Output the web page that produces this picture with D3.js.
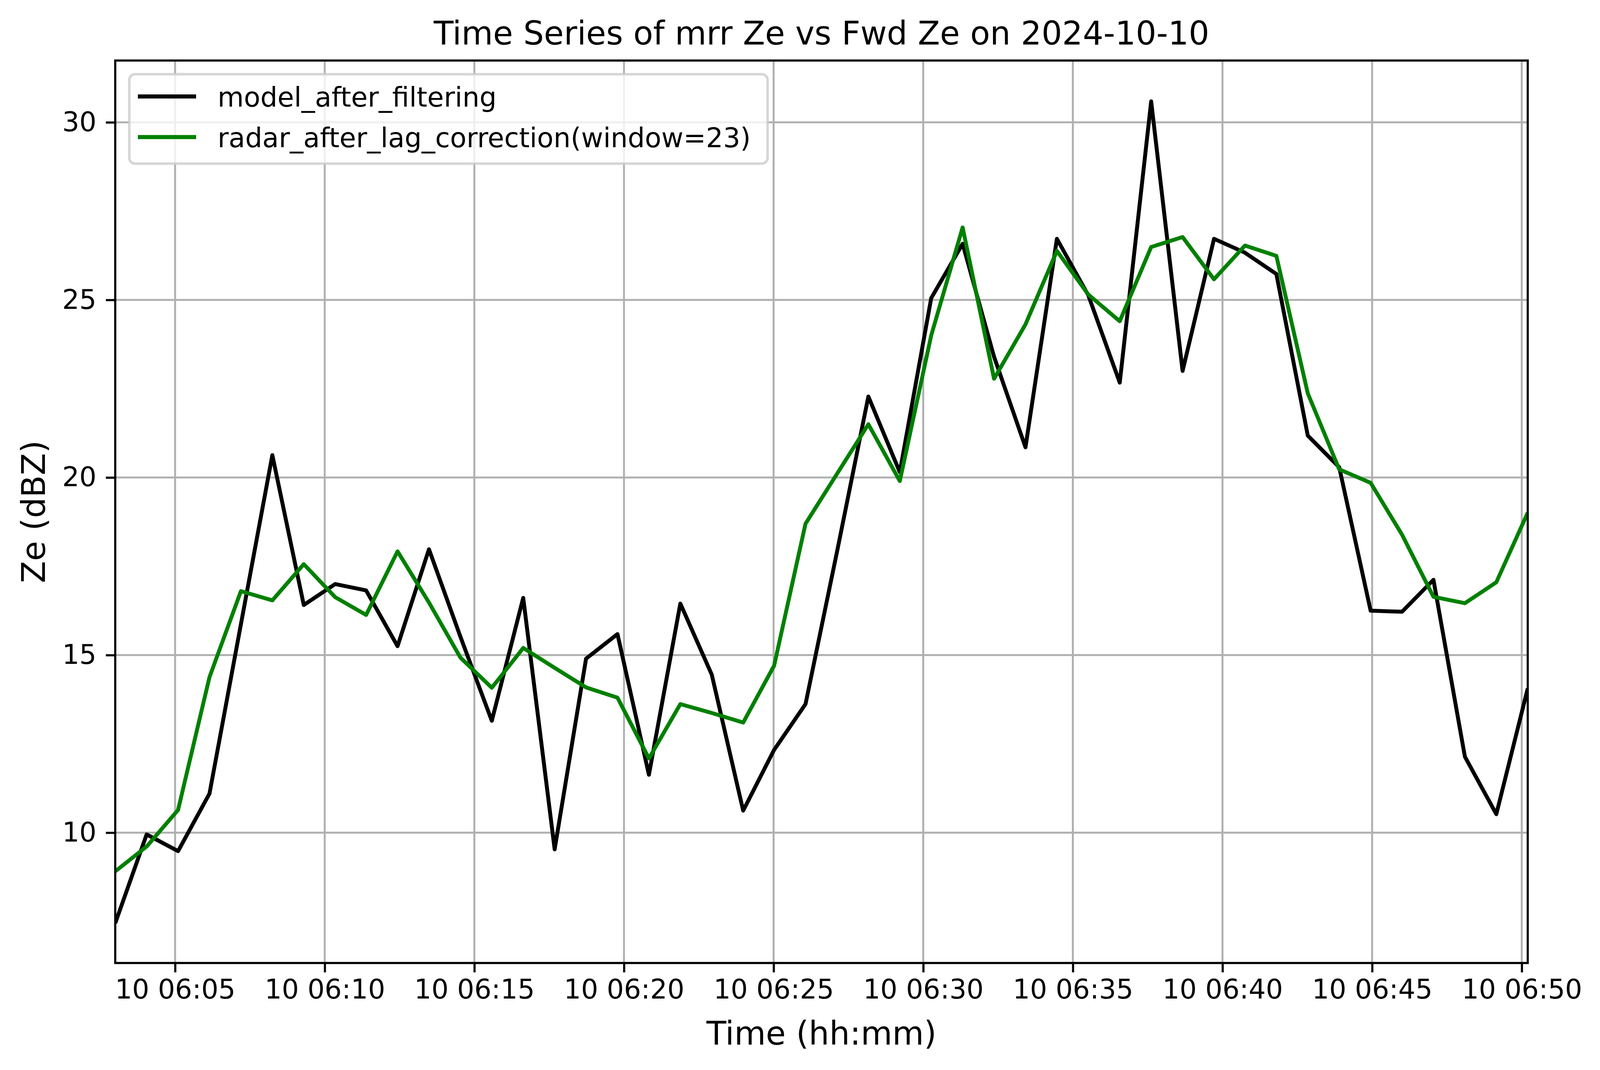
<!DOCTYPE html>
<html lang="en">
<head>
  <meta charset="UTF-8">
  <title>Time Series of mrr Ze vs Fwd Ze</title>
  <script src="https://d3js.org/d3.v7.min.js"></script>
  <style>
    html, body {
      margin: 0;
      padding: 0;
      background: #fff;
      overflow: hidden;
    }
    svg {
      display: block;
      font-family: "DejaVu Sans", sans-serif;
    }
  </style>
</head>
<body>
  <svg id="chart"></svg>
  <script>
    // Sample times (UTC, 2024-10-10)
    const times = [
      "06:03:00", "06:04:03", "06:05:06", "06:06:09", "06:07:12", "06:08:15",
      "06:09:18", "06:10:21", "06:11:23", "06:12:26", "06:13:29", "06:14:32",
      "06:15:35", "06:16:38", "06:17:41", "06:18:44", "06:19:47", "06:20:50",
      "06:21:53", "06:22:56", "06:23:59", "06:25:01", "06:26:04", "06:27:07",
      "06:28:10", "06:29:13", "06:30:16", "06:31:19", "06:32:22", "06:33:25",
      "06:34:28", "06:35:31", "06:36:34", "06:37:37", "06:38:40", "06:39:43",
      "06:40:45", "06:41:48", "06:42:51", "06:43:54", "06:44:57", "06:46:00",
      "06:47:03", "06:48:06", "06:49:09", "06:50:12"
    ];

    // model_after_filtering (dBZ)
    const modelZe = [
      7.45, 9.95, 9.48, 11.10, 15.87, 20.63, 16.41, 17.00, 16.82, 15.25,
      17.98, 15.52, 13.15, 16.61, 9.53, 14.90, 15.59, 11.63, 16.45, 14.45,
      10.62, 12.33, 13.62, 17.90, 22.28, 20.15, 25.05, 26.58, 23.40, 20.85,
      26.72, 25.13, 22.67, 30.59, 23.00, 26.72, 26.33, 25.73, 21.18, 20.29,
      16.25, 16.22, 17.12, 12.14, 10.52, 14.06
    ];

    // radar_after_lag_correction(window=23) (dBZ)
    const radarZe = [
      8.91, 9.61, 10.64, 14.38, 16.80, 16.54, 17.56, 16.63, 16.13, 17.92,
      16.48, 14.93, 14.08, 15.20, 14.64, 14.09, 13.80, 12.09, 13.62, 13.37,
      13.10, 14.70, 18.70, 20.10, 21.50, 19.90, 24.00, 27.04, 22.78, 24.31,
      26.38, 25.15, 24.40, 26.49, 26.77, 25.58, 26.53, 26.24, 22.37, 20.23,
      19.85, 18.39, 16.64, 16.46, 17.05, 19.01
    ];

    const yTicks = [10, 15, 20, 25, 30];

    const series = [
      { name: "model_after_filtering", values: modelZe, color: "#000000" },
      { name: "radar_after_lag_correction(window=23)", values: radarZe, color: "#008000" }
    ];

    const dates = times.map(t => new Date("2024-10-10T" + t + "Z"));

    // Layout measured on a 5129x2740 figure; margins hold text, so keep them
    // at text scale and let the plot take whatever width the window has.
    const W = window.innerWidth, H = window.innerHeight;
    const k = H / 2740;

    const plot = { left: 295 * k, right: W - 185 * k, top: 155 * k, bottom: 2466 * k };

    const svg = d3.select("#chart").attr("width", W).attr("height", H);

    const x = d3.scaleUtc()
      .domain(d3.extent(dates))
      .range([plot.left, plot.right]);

    const y = d3.scaleLinear()
      .domain([6.33, 31.74])
      .range([plot.bottom, plot.top]);

    const xTicks = x.ticks(d3.utcMinute.every(5));

    // Grid
    const grid = svg.append("g")
      .attr("stroke", "#b0b0b0")
      .attr("stroke-width", 5 * k);
    grid.selectAll(".gx")
      .data(xTicks)
      .enter().append("line")
      .attr("x1", d => x(d)).attr("x2", d => x(d))
      .attr("y1", plot.top).attr("y2", plot.bottom);
    grid.selectAll(".gy")
      .data(yTicks)
      .enter().append("line")
      .attr("x1", plot.left).attr("x2", plot.right)
      .attr("y1", d => y(d)).attr("y2", d => y(d));

    // Lines
    svg.append("defs").append("clipPath")
      .attr("id", "plot-clip")
      .append("rect")
      .attr("x", plot.left).attr("y", plot.top)
      .attr("width", plot.right - plot.left).attr("height", plot.bottom - plot.top);

    const line = d3.line()
      .x((d, i) => x(dates[i]))
      .y(d => y(d));

    svg.append("g")
      .attr("clip-path", "url(#plot-clip)")
      .selectAll("path")
      .data(series)
      .enter().append("path")
      .attr("fill", "none")
      .attr("stroke", d => d.color)
      .attr("stroke-width", 10 * k)
      .attr("stroke-linejoin", "round")
      .attr("d", d => line(d.values));

    // Axes
    const xAxis = d3.axisBottom(x)
      .tickValues(xTicks)
      .tickFormat(d3.utcFormat("%d %H:%M"))
      .tickSize(24 * k)
      .tickPadding(18 * k)
      .tickSizeOuter(0);

    const yAxis = d3.axisLeft(y)
      .tickValues(yTicks)
      .tickFormat(d3.format("d"))
      .tickSize(24 * k)
      .tickPadding(24 * k)
      .tickSizeOuter(0);

    function styleAxis(g) {
      g.select(".domain").remove();
      g.selectAll("line").attr("stroke", "#000").attr("stroke-width", 5.5 * k);
      g.selectAll("text")
        .attr("fill", "#000")
        .attr("font-size", 69 * k)
        .attr("font-family", "DejaVu Sans, sans-serif");
    }

    svg.append("g")
      .attr("transform", `translate(0,${plot.bottom})`)
      .call(xAxis)
      .call(styleAxis)
      .selectAll("text").attr("dy", "0.71em");

    svg.append("g")
      .attr("transform", `translate(${plot.left},0)`)
      .call(yAxis)
      .call(styleAxis);

    // Frame
    svg.append("rect")
      .attr("x", plot.left).attr("y", plot.top)
      .attr("width", plot.right - plot.left).attr("height", plot.bottom - plot.top)
      .attr("fill", "none")
      .attr("stroke", "#000")
      .attr("stroke-width", 5.5 * k);

    // Titles
    const midX = (plot.left + plot.right) / 2;
    svg.append("text")
      .attr("x", midX)
      .attr("y", 114 * k)
      .attr("text-anchor", "middle")
      .attr("font-size", 83 * k)
      .text("Time Series of mrr Ze vs Fwd Ze on 2024-10-10");

    svg.append("text")
      .attr("x", midX)
      .attr("y", 2675 * k)
      .attr("text-anchor", "middle")
      .attr("font-size", 83 * k)
      .text("Time (hh:mm)");

    svg.append("text")
      .attr("transform", `translate(${plot.left - 180 * k},${(plot.top + plot.bottom) / 2}) rotate(-90)`)
      .attr("text-anchor", "middle")
      .attr("font-size", 83 * k)
      .text("Ze (dBZ)");

    // Legend
    const legend = svg.append("g")
      .attr("transform", `translate(${plot.left + 36 * k},${plot.top + 35 * k})`);
    const frame = legend.append("rect")
      .attr("x", 0).attr("y", 0)
      .attr("height", 229 * k)
      .attr("rx", 15 * k).attr("ry", 15 * k)
      .attr("fill", "#fff")
      .attr("fill-opacity", 0.8)
      .attr("stroke", "#cccccc")
      .attr("stroke-opacity", 0.8)
      .attr("stroke-width", 6.5 * k);

    const item = legend.selectAll(".item")
      .data(series)
      .enter().append("g")
      .attr("transform", (d, i) => `translate(0,${(57 + i * 104) * k})`);
    item.append("line")
      .attr("x1", 22 * k).attr("x2", 171 * k)
      .attr("stroke", d => d.color)
      .attr("stroke-width", 10.5 * k);
    const labels = item.append("text")
      .attr("x", 226 * k)
      .attr("y", 26 * k)
      .attr("font-size", 69 * k)
      .text(d => d.name);

    const textW = d3.max(labels.nodes(), n => n.getComputedTextLength());
    frame.attr("width", 226 * k + textW + 43 * k);
  </script>
</body>
</html>
